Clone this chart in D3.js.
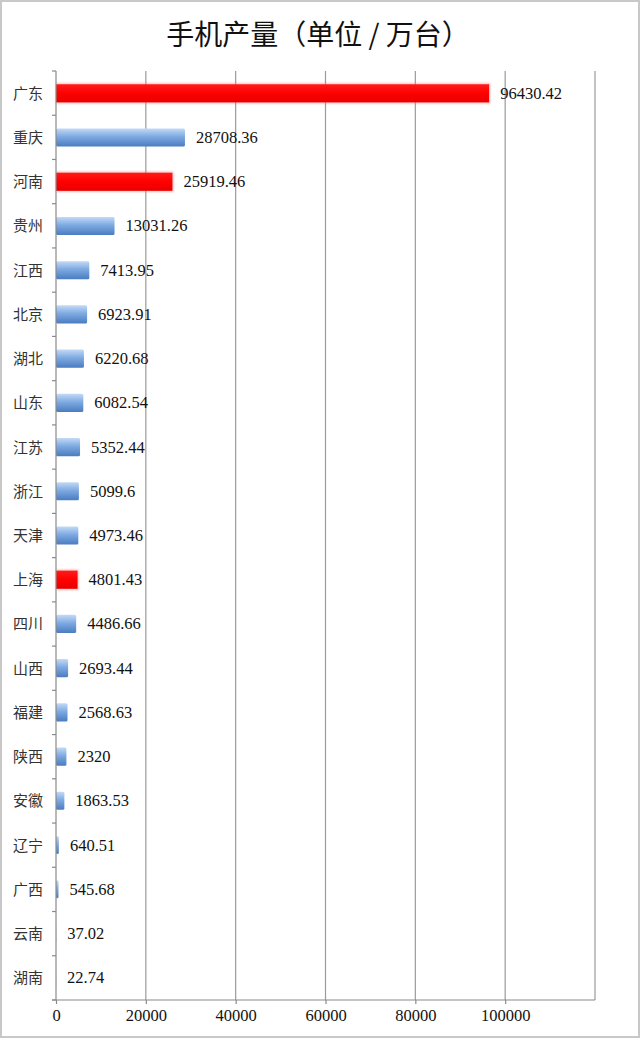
<!DOCTYPE html>
<html>
<head>
<meta charset="utf-8">
<script src="https://cdn.jsdelivr.net/npm/d3@7/dist/d3.min.js"></script>
<style>
  html, body { margin: 0; padding: 0; background: #fff; }
  svg { display: block; }
</style>
</head>
<body>
<script>
const categories = ["广东","重庆","河南","贵州","江西","北京","湖北","山东","江苏","浙江","天津","上海","四川","山西","福建","陕西","安徽","辽宁","广西","云南","湖南"];
const values = [96430.42,28708.36,25919.46,13031.26,7413.95,6923.91,6220.68,6082.54,5352.44,5099.6,4973.46,4801.43,4486.66,2693.44,2568.63,2320,1863.53,640.51,545.68,37.02,22.74];
const highlighted = ["广东","河南","上海"];
const xTicks = [0,20000,40000,60000,80000,100000];
const xMax = 120000;
const title = "手机产量（单位 / 万台）";

const W = 640, H = 1038;
const m = {left: 56, right: 45, top: 71, bottom: 38};

const svg = d3.select("body").append("svg").attr("width", W).attr("height", H);

// gradients
const defs = svg.append("defs");
const gb = defs.append("linearGradient").attr("id","gBlue").attr("x1",0).attr("y1",0).attr("x2",0).attr("y2",1);
gb.append("stop").attr("offset","0%").attr("stop-color","#c3daf6");
gb.append("stop").attr("offset","45%").attr("stop-color","#7eaae2");
gb.append("stop").attr("offset","100%").attr("stop-color","#4a7cc0");
const gr = defs.append("linearGradient").attr("id","gRed").attr("x1",0).attr("y1",0).attr("x2",0).attr("y2",1);
gr.append("stop").attr("offset","0%").attr("stop-color","#ff1a1a");
gr.append("stop").attr("offset","50%").attr("stop-color","#ff0000");
gr.append("stop").attr("offset","100%").attr("stop-color","#e80000");
const flt = defs.append("filter").attr("id","glow").attr("x","-10%").attr("y","-40%").attr("width","120%").attr("height","180%");
flt.append("feGaussianBlur").attr("in","SourceGraphic").attr("stdDeviation",1.2);

// outer frame
svg.append("rect").attr("x",1).attr("y",1).attr("width",W-2).attr("height",H-2)
  .attr("fill","none").attr("stroke","#c8c8c8").attr("stroke-width",2);

const x = d3.scaleLinear().domain([0, xMax]).range([m.left, W - m.right]);
const y = d3.scaleBand().domain(categories).range([m.top, H - m.bottom]).paddingInner(0.59).paddingOuter(0.3);
const yb = d3.scaleBand().domain(categories).range([m.top, H - m.bottom]);

// title
svg.append("text").attr("x", W/2 - 2).attr("y", 45).attr("text-anchor","middle")
  .attr("font-family","'Noto Sans CJK SC', sans-serif").attr("font-size",28).attr("font-weight",400)
  .attr("fill","#111").text(title);

// gridlines
const gridVals = xTicks.slice(1).concat([xMax]);
svg.append("g").selectAll("line").data(gridVals).join("line")
  .attr("x1", d => x(d)).attr("x2", d => x(d))
  .attr("y1", m.top).attr("y2", H - m.bottom)
  .attr("stroke","#9a9a9a").attr("stroke-width",1.2);

// bars
const bars = svg.append("g");
categories.forEach((c, i) => {
  const v = values[i];
  const hl = highlighted.includes(c);
  const w = Math.max(x(v) - x(0), 0);
  if (hl) {
    bars.append("rect").attr("x", x(0)).attr("y", y(c) - 1).attr("width", w + 1).attr("height", y.bandwidth() + 2)
      .attr("fill","#ff6a6a").attr("opacity",0.5).attr("filter","url(#glow)");
  }
  bars.append("rect")
    .attr("x", x(0)).attr("y", y(c))
    .attr("width", Math.max(w, v > 300 ? 2.5 : 0)).attr("height", y.bandwidth())
    .attr("rx", hl ? 0 : 1.5)
    .attr("fill", hl ? "url(#gRed)" : "url(#gBlue)");
});

// value labels
svg.append("g").selectAll("text").data(categories).join("text")
  .attr("x", (c, i) => x(values[i]) + 11)
  .attr("y", c => y(c) + y.bandwidth()/2 + 5.5)
  .attr("font-family","'Liberation Serif', serif").attr("font-size",16.5)
  .attr("fill","#111")
  .text((c, i) => String(values[i]));

// y axis
const yAxis = svg.append("g").attr("transform", `translate(${m.left},0)`);
yAxis.append("line").attr("x1",0).attr("x2",0).attr("y1",m.top).attr("y2",H-m.bottom).attr("stroke","#8a8a8a").attr("stroke-width",1.2);
const bounds = categories.map(c => yb(c)).concat([H - m.bottom]);
yAxis.selectAll("line.tk").data(bounds).join("line").attr("class","tk")
  .attr("x1",-4).attr("x2",0).attr("y1",d=>d).attr("y2",d=>d).attr("stroke","#8a8a8a").attr("stroke-width",1.2);
yAxis.selectAll("text").data(categories).join("text")
  .attr("x", -13).attr("y", c => y(c) + y.bandwidth()/2 + 5.5)
  .attr("text-anchor","end")
  .attr("font-family","'Noto Sans CJK SC', sans-serif").attr("font-size",15)
  .attr("fill","#333").text(c => c);

// x axis
const xAxisG = svg.append("g").attr("transform", `translate(0,${H - m.bottom})`)
  .call(d3.axisBottom(x).tickValues(xTicks).tickSize(4).tickFormat(d3.format("d")));
xAxisG.select(".domain").remove();
xAxisG.append("line").attr("x1", x(0) - 4).attr("x2", x(xMax)).attr("y1",0).attr("y2",0).attr("stroke","#8a8a8a").attr("stroke-width",1.2);
xAxisG.selectAll(".tick line").attr("stroke","#8a8a8a").attr("stroke-width",1.2);
xAxisG.selectAll(".tick text").attr("font-family","'Liberation Serif', serif").attr("font-size",16.5).attr("fill","#111").attr("dy","0.85em");
</script>
</body>
</html>
